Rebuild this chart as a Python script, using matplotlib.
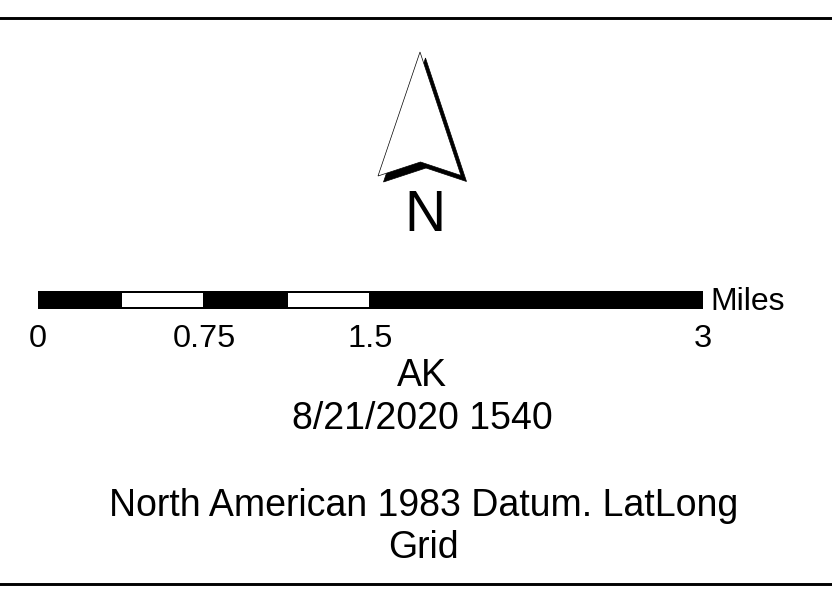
import matplotlib
matplotlib.use('Agg')
import matplotlib.pyplot as plt
from matplotlib.patches import Polygon, Rectangle

# Scale bar data (miles)
bar_stops = [0, 0.375, 0.75, 1.125, 1.5, 3]
bar_fill = ['black', 'white', 'black', 'white', 'black']
tick_miles = [0, 0.75, 1.5, 3]
tick_labels = ['0', '0.75', '1.5', '3']
unit_label = 'Miles'

# Text block
north_label = 'N'
info_lines = ['AK', '8/21/2020 1540']
datum_lines = ['North American 1983 Datum. LatLong', 'Grid']

# North arrow outline
arrow_x = [420, 378, 420.5, 461]
arrow_y = [52, 176, 162, 175.5]

plt.rcParams['font.family'] = ['Liberation Sans', 'DejaVu Sans']

fig = plt.figure(figsize=(8.32, 5.91), dpi=100)
ax = fig.add_axes([0, 0, 1, 1])
ax.set_xlim(0, 832)
ax.set_ylim(591, 0)
ax.axis('off')

# top and bottom rules
ax.plot([0, 832], [17.5, 17.5], color='black', lw=2.1)
ax.plot([0, 832], [584, 584], color='black', lw=2.1)

# arrow: shadow first, then white face
outline = list(zip(arrow_x, arrow_y))
shadow = [(x + 5.5, y + 6) for x, y in outline]
ax.add_patch(Polygon(shadow, closed=True, facecolor='black', edgecolor='black', lw=0.5))
ax.add_patch(Polygon(outline, closed=True, facecolor='white', edgecolor='black', lw=0.5))
ax.text(424.5, 231, north_label, fontsize=41, ha='center', va='baseline')

# scale bar
px_per_mile = (703 - 37.5) / 3
bar_left = 37.5
bar_top = 291
bar_h = 18
for i, col in enumerate(bar_fill):
    x0 = bar_left + bar_stops[i] * px_per_mile
    x1 = bar_left + bar_stops[i + 1] * px_per_mile
    ax.add_patch(Rectangle((x0, bar_top), x1 - x0, bar_h, facecolor='black', edgecolor='none'))
    if col == 'white':
        ax.add_patch(Rectangle((x0 + 1, bar_top + 2), x1 - x0 - 2, bar_h - 4,
                               facecolor='white', edgecolor='none'))

for m, lab in zip(tick_miles, tick_labels):
    ax.text(bar_left + m * px_per_mile, 347, lab, fontsize=23.4, ha='center', va='baseline')
ax.text(710.5, 310, unit_label, fontsize=23, ha='left', va='baseline')

# labels under the bar
for y, line in zip([386, 429], info_lines):
    ax.text(422, y, line, fontsize=27, ha='center', va='baseline')
for y, line in zip([516, 558], datum_lines):
    ax.text(423.5, y, line, fontsize=27, ha='center', va='baseline')

fig.savefig('out.png', dpi=100)
